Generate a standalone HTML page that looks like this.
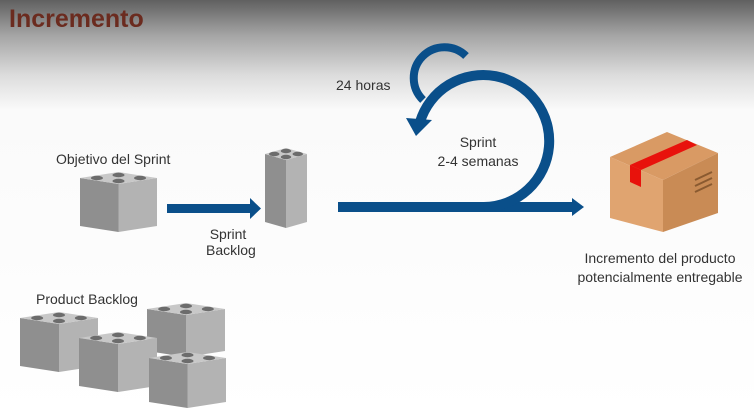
<!DOCTYPE html>
<html><head><meta charset="utf-8"><style>
body{margin:0}
.w{position:relative;width:754px;height:415px;overflow:hidden;background:linear-gradient(#606060 0px,#a4a4a4 35px,#dcdcdc 75px,#fafafa 110px,#fff 100%);font-family:"Liberation Sans",sans-serif}
.t{position:absolute;color:#333;font-size:14px;white-space:nowrap}
</style></head><body><div class="w">
<div style="position:absolute;left:9px;top:5px;font-size:25px;font-weight:bold;color:#6b2b1f">Incremento</div>
<svg width="754" height="415" style="position:absolute;left:0;top:0" id="s">
<g fill="none" stroke="#0a4f8a">
<path d="M338,207 H576" stroke-width="10"/>
<path d="M484,207 A66,66 0 1 0 420,122" stroke-width="10"/>
<path d="M466,56 A30,30 0 1 0 423,100" stroke-width="8"/>
</g>
<g fill="#0a4f8a">
<polygon points="406,118 432,120 416,136"/>
<polygon points="572,198 584,207 572,216"/>
<rect x="167" y="204" width="84" height="9"/>
<polygon points="250,198 261,208.5 250,219"/>
</g>
<g id="bricks"></g>
<polygon points="610,157 667,132 718,153 663,180" fill="#d99a64"/>
<polygon points="610,157 663,180 663,232 610,218" fill="#e0a470"/>
<polygon points="663,180 718,153 718,213 663,232" fill="#c98b55"/>
<polygon points="630,165 641,170 697,145 687,140" fill="#e8120c"/>
<polygon points="630,165 641,170 641,187 630,182" fill="#e8120c"/>
<g stroke="#8a5a30" stroke-width="2"><line x1="695" y1="180" x2="712" y2="172"/><line x1="695" y1="186" x2="712" y2="178"/><line x1="695" y1="192" x2="712" y2="184"/></g>
</svg>
<div class="t" style="left:56px;top:151px">Objetivo del Sprint</div>
<div class="t" style="left:206px;top:226px;text-align:center;width:44px">Sprint<br>Backlog</div>
<div class="t" style="left:36px;top:291px">Product Backlog</div>
<div class="t" style="left:336px;top:77px">24 horas</div>
<div class="t" style="left:420px;top:133px;width:116px;text-align:center;line-height:19px">Sprint<br>2-4 semanas</div>
<div class="t" style="left:555px;top:249px;width:210px;text-align:center;line-height:19px">Incremento del producto<br>potencialmente entregable</div>
<script>
var g=document.getElementById('bricks'),h='';
function B(L,T,W,H){var m=L+W/2;
h+='<polygon points="'+L+','+(T+6)+' '+m+','+(T+12)+' '+m+','+(T+12+H)+' '+L+','+(T+6+H)+'" fill="#8f8f8f"/>';
h+='<polygon points="'+m+','+(T+12)+' '+(L+W)+','+(T+6)+' '+(L+W)+','+(T+6+H)+' '+m+','+(T+12+H)+'" fill="#b3b3b3"/>';
h+='<polygon points="'+m+','+T+' '+L+','+(T+6)+' '+m+','+(T+12)+' '+(L+W)+','+(T+6)+'" fill="#c8c8c8"/>';
var s=Math.min(W/8,6);
[[m,T+3],[L+W*0.22,T+6],[L+W*0.78,T+6],[m,T+9]].forEach(function(p){h+='<ellipse cx="'+p[0]+'" cy="'+p[1]+'" rx="'+s+'" ry="2.2" fill="#6c6c6c"/>';});}
B(80,172,77,48);B(265,148,42,68);B(20,312,78,48);B(147,303,78,42);B(79,332,78,48);B(149,352,77,44);
g.innerHTML=h;
</script>
</div></body></html>
